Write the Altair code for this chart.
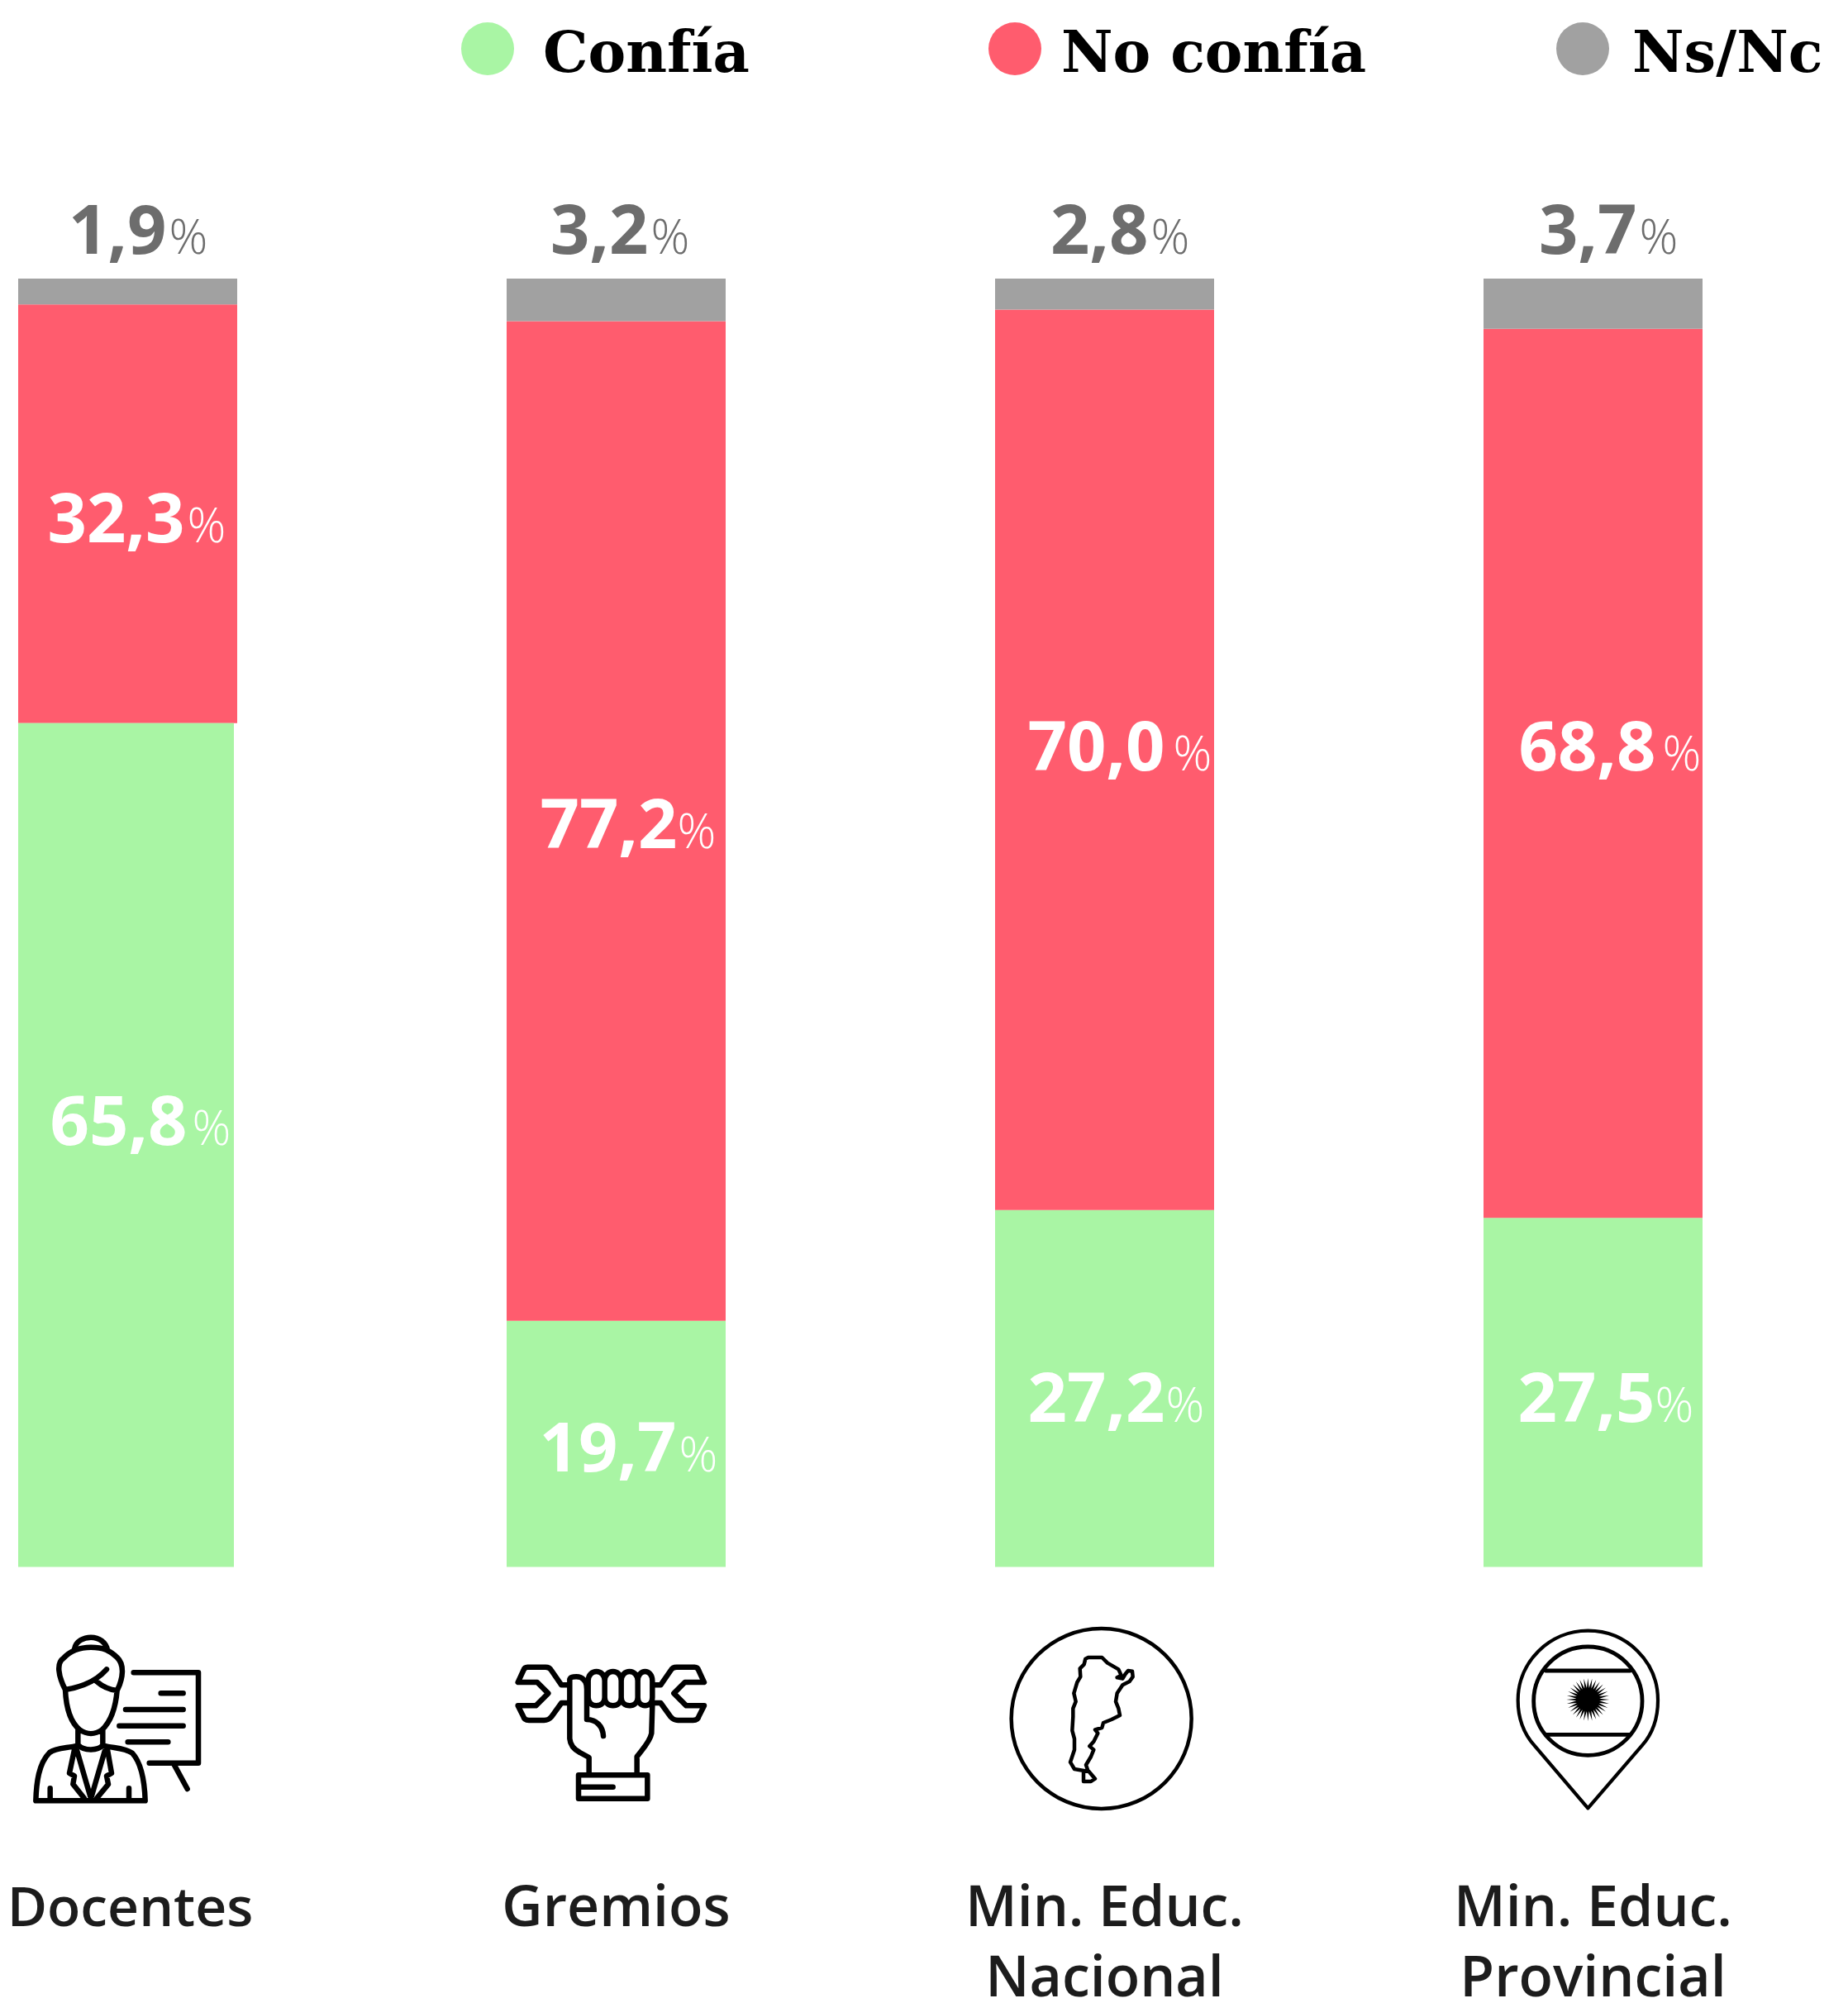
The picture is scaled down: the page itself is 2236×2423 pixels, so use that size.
import math
import altair as alt
import pandas as pd

# ---- data ----
categories = ["Docentes", "Gremios", "Min. Educ.\nNacional", "Min. Educ.\nProvincial"]
series = ["Confía", "No confía", "Ns/Nc"]
# drawn heights of the segments, % of the full bar
bar_confia = [65.5, 19.1, 27.7, 27.1]
bar_noconfia = [32.5, 77.6, 69.9, 69.0]
bar_nsnc = [2.0, 3.3, 2.4, 3.9]
# printed labels
label_confia = ["65,8", "19,7", "27,2", "27,5"]
label_noconfia = ["32,3", "77,2", "70,0", "68,8"]
label_nsnc = ["1,9", "3,2", "2,8", "3,7"]

# ---- styles ----
COLORS = ["#A9F5A4", "#FF5C6E", "#A1A1A1"]
NUM_FONT = "Open Sans"
CAT_FONT = "Open Sans"
LEG_FONT = "DejaVu Serif"
W, H = 2220, 2415

x_scale = alt.Scale(domain=categories, range=[14, 2052], paddingInner=0.5516, paddingOuter=0)
y_scale = alt.Scale(domain=[0, 100], range=[1887.5, 329], nice=False, zero=True)
color_scale = alt.Scale(domain=series, range=COLORS)

rows = []
for i, c in enumerate(categories):
    lo = 0.0
    for j, (s, v) in enumerate(zip(series, (bar_confia[i], bar_noconfia[i], bar_nsnc[i]))):
        rows.append({"cat": c, "serie": s, "lo": lo, "hi": lo + v})
        lo += v
df = pd.DataFrame(rows)
is_narrow = (df["cat"] == categories[0]) & (df["serie"] == series[0])

def bar_enc(chart):
    return chart.encode(
        x=alt.X("cat:N", scale=x_scale, axis=None, sort=categories),
        y=alt.Y("lo:Q", scale=y_scale, axis=None),
        y2="hi:Q",
        color=alt.Color("serie:N", scale=color_scale, legend=None),
    )

# Docentes' green segment is a touch narrower than the others in the reference
bars = bar_enc(alt.Chart(df[~is_narrow]).mark_bar())
bars_narrow = bar_enc(alt.Chart(df[is_narrow]).mark_bar(width=261, xOffset=-2))

layers = [bars, bars_narrow]

# value labels: bold number + light % either side of an anchor
def value_label(cat, number, pct, color, dx, dy, shift=0):
    d = pd.DataFrame([{"cat": cat, "p": pct, "t": number, "u": "%"}])
    base = alt.Chart(d)
    enc = dict(x=alt.X("cat:N", scale=x_scale, axis=None, sort=categories),
               y=alt.Y("p:Q", scale=y_scale, axis=None))
    a = base.mark_text(font=NUM_FONT, fontWeight=700, fontSize=83, color=color, align="right",
                       baseline="alphabetic", dx=dx - 3 + shift, dy=dy).encode(text="t:N", **enc)
    b = base.mark_text(font=NUM_FONT, fontWeight=300, fontSize=58, color=color, align="left",
                       baseline="alphabetic", dx=dx, dy=dy).encode(text="u:N", **enc)
    return [a, b]

DX_GREEN = [78, 76, 74, 75]
DY_GREEN = [0, 33, 40, 36]
SH_GREEN = [-3, 0, 2, 3]
DX_RED = [72, 74, 83, 84]
DY_RED = [35, 33, 13, -3]
SH_RED = [0, 3, -7, -5]
DX_GRAY = [50, 42, 56, 56]
DY_GRAY = -30

for i, c in enumerate(categories):
    layers += value_label(c, label_confia[i], bar_confia[i] / 2, "white", DX_GREEN[i], DY_GREEN[i], SH_GREEN[i])
    layers += value_label(c, label_noconfia[i], bar_confia[i] + bar_noconfia[i] / 2, "white", DX_RED[i], DY_RED[i], SH_RED[i])
    layers += value_label(c, label_nsnc[i], 100, "#6D6D6D", DX_GRAY[i], DY_GRAY)

# category labels
CAT_SIZES = [66, 68, 68, 68]
CAT_DX = [3, 0, 0, 0]
for c, fs, dx in zip(categories, CAT_SIZES, CAT_DX):
    layers.append(alt.Chart(pd.DataFrame({"cat": [c]})).mark_text(
        font=CAT_FONT, fontWeight=600, fontSize=fs, color="#1C1C1C", align="center",
        baseline="alphabetic", lineBreak="\n", lineHeight=85, dx=dx,
    ).encode(
        x=alt.X("cat:N", scale=x_scale, axis=None, sort=categories),
        y=alt.value(2322),
        text="cat:N",
    ))

# legend
LEG_CIRCLE_X = [582, 1220, 1907]
LEG_TEXT_X = [649, 1276, 1967]
for s, col, cx, tx in zip(series, COLORS, LEG_CIRCLE_X, LEG_TEXT_X):
    d = pd.DataFrame({"serie": [s]})
    layers.append(alt.Chart(d).mark_circle(color=col, opacity=1, size=4096).encode(x=alt.value(cx), y=alt.value(51)))
    layers.append(alt.Chart(d).mark_text(font=LEG_FONT, fontWeight=700, fontSize=68.5, color="black", align="left",
                                         baseline="alphabetic").encode(x=alt.value(tx), y=alt.value(79), text="serie:N"))

# ---- icon outlines (pixel crops at 3x, drawn as custom symbols) ----
ICON_SIZE = 4 / 9  # custom path units -> 1/3 px

teacher = " ".join([
    "M180 75C185 45 215 32 240 32C270 32 295 50 300 78",
    "M147 222C120 170 115 125 140 108C170 75 205 68 240 68C285 68 310 80 335 105C362 130 358 180 335 225",
    "M147 222C210 212 265 185 297 148",
    "M258 190C275 205 305 222 335 225",
    "M147 222C150 290 165 340 200 368C225 385 255 385 280 368C315 335 330 285 335 225",
    "M193 368L193 422M283 368L283 422",
    "M193 422C215 445 265 445 285 422",
    "M40 625C42 560 50 490 90 450C115 432 150 435 193 425",
    "M285 425C325 435 360 432 390 452C425 490 435 560 437 625",
    "M40 625L437 625",
    "M180 440L162 525L180 535L175 565L215 615",
    "M190 445L238 610M290 445L242 610",
    "M300 440L315 525L297 535L303 565L262 615",
    "M92 580L92 620M378 580L378 620",
    "M395 160L630 160L630 488L452 488",
    "M494 235L575 235M366 294L575 294M343 353L575 353M374 412L520 412",
    "M540 490L590 582",
])

def wrench(m):
    f = (lambda x: x) if not m else (lambda x: 776 - x)
    return (f"M{f(235)} 115L{f(208)} 115L{f(170)} 60C{f(165)} 50 {f(155)} 50 {f(150)} 50L{f(85)} 50"
            f"C{f(75)} 50 {f(72)} 55 {f(70)} 62L{f(50)} 105L{f(120)} 105L{f(160)} 145L{f(115)} 190L{f(50)} 190"
            f"L{f(70)} 230C{f(72)} 240 {f(80)} 243 {f(90)} 243L{f(145)} 243C{f(160)} 243 {f(165)} 238 {f(172)} 230"
            f"L{f(208)} 180L{f(235)} 180")

fingers = " ".join(
    f"M{a} 100C{a} 55 {b} 55 {b} 100L{b} 160C{b} 200 {a} 200 {a} 160Z"
    for a, b in [(305, 365), (365, 425), (425, 485), (485, 538)]
)
fist = " ".join([
    wrench(False), wrench(True), fingers,
    "M238 95C240 85 250 85 262 85C285 85 300 100 300 130L300 240",
    "M238 95L238 310C240 335 255 350 275 360L308 378L308 435",
    "M538 190L535 290C530 320 500 350 482 375L482 435",
    "M300 240C335 240 358 265 360 300",
    "M270 442L520 442L520 527L270 527Z",
    "M275 485L395 485",
])

def circle_path(cx, cy, r):
    k = 0.5523 * r
    return (f"M{cx - r} {cy}C{cx - r} {cy - k} {cx - k} {cy - r} {cx} {cy - r}"
            f"C{cx + k} {cy - r} {cx + r} {cy - k} {cx + r} {cy}"
            f"C{cx + r} {cy + k} {cx + k} {cy + r} {cx} {cy + r}"
            f"C{cx - k} {cy + r} {cx - r} {cy + k} {cx - r} {cy}Z")

arg_main = ("M320 135L370 135L390 155L430 178L440 200L425 208L445 212L455 195L465 183L480 185L482 205L470 222"
            "L445 235L425 265L420 295L430 320L435 345L405 360L375 372L370 390L345 397L355 410L340 440L325 457"
            "L340 470L330 495L312 525L320 548L300 545L270 540L255 515L270 470L270 430L262 400L265 350L265 320"
            "L275 295L268 265L280 225L292 205L290 175L305 160L310 140Z")
arg_tdf = "M303 548L322 548L345 575L330 585L303 585Z"

pin = ("M304 682L110 455C70 410 50 350 50 290C50 150 165 38 304 38C445 38 558 150 558 290"
       "C558 350 540 410 500 455Z")
flag_lines = "M150 183L458 183M150 415L458 415"

sun_pts = []
n_rays = 32
for k in range(n_rays * 2):
    a = math.pi * k / n_rays
    r = 78 if k % 2 == 0 else 42
    sun_pts.append(f"{304 + r * math.cos(a):.1f} {288 + r * math.sin(a):.1f}")
sun = "M" + "L".join(sun_pts) + "Z"

ICON_X = [30 - 8, 610 - 8, 1210 - 8, 1820 - 8]
ICON_Y = [1970 - 8, 2000 - 8, 1960 - 8, 1960 - 8]

def icon(path, i, sw, filled=False):
    kw = dict(shape=path, size=ICON_SIZE, filled=filled, opacity=1, strokeCap="round", strokeJoin="round")
    if filled:
        kw.update(fill="black", strokeWidth=0)
    else:
        kw.update(stroke="black", strokeWidth=sw, fill="transparent")
    return alt.Chart(pd.DataFrame({"i": [i]})).mark_point(**kw).encode(x=alt.value(ICON_X[i]), y=alt.value(ICON_Y[i]))

layers += [
    icon(teacher, 0, 6.5),
    icon(fist, 1, 6.5),
    icon(circle_path(368, 357, 327), 2, 4.5),
    icon(arg_main + arg_tdf, 2, 4.5),
    icon(pin, 3, 4.2),
    icon(circle_path(304, 293, 197), 3, 4.8),
    icon(flag_lines, 3, 4.8),
    icon(sun, 3, 0, True),
]

chart = alt.layer(*layers).properties(
    width=W, height=H, padding=0, autosize=alt.AutoSizeParams(type="none"),
).configure_view(stroke=None)

chart.save("out.html", embed_options={"renderer": "svg", "actions": False})
